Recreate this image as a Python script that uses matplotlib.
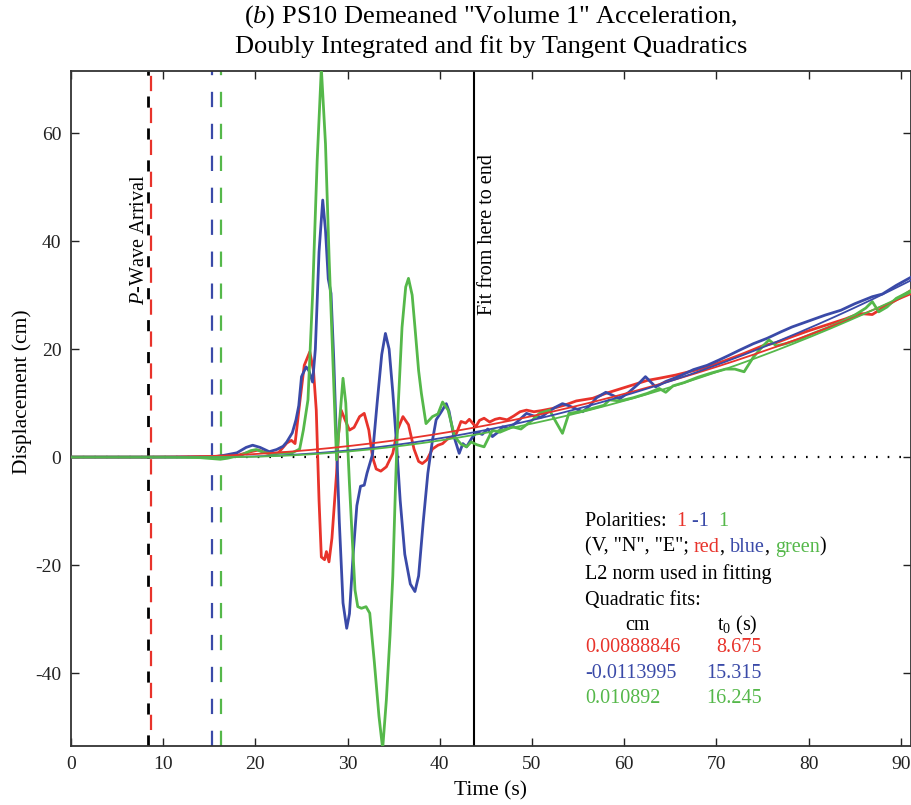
import numpy as np
import matplotlib
matplotlib.use("Agg")
import matplotlib.pyplot as plt

plt.rcParams['font.family'] = ['Liberation Serif', 'DejaVu Serif']
plt.rcParams['mathtext.fontset'] = 'custom'
plt.rcParams['mathtext.rm'] = 'Liberation Serif'
plt.rcParams['mathtext.it'] = 'Liberation Serif:italic'
plt.rcParams['axes.unicode_minus'] = False
plt.rcParams['lines.scale_dashes'] = False

# ---------------- data ----------------
red_t = [0, 8, 15, 18, 19.5, 20.3, 21.5, 22.5, 23.4, 23.9, 24.3, 24.8, 25.3, 25.9, 26.3, 26.6, 26.9,
         27.15, 27.5, 27.7, 27.98, 28.3, 28.8, 29.0, 29.3, 29.7, 30.2, 30.7, 31.3, 31.8, 32.3, 32.7,
         33.1, 33.6, 34.2, 34.9, 35.4, 36.0, 36.6, 37.2, 37.7, 38.1, 38.6, 39.2, 39.8, 40.3, 40.8,
         41.4, 41.8, 42.3, 42.8, 43.2, 43.6, 43.9, 44.3, 44.8, 45.4, 46.0, 46.5, 47.3, 48.0, 48.7,
         49.4, 50.2, 51.0, 52.2, 53.5, 54.8, 56.6, 58.0, 59.5, 61.0, 62.5, 63.8, 65.6, 67.5, 69.0,
         71.0, 73.0, 75.0, 76.5, 78.2, 80.0, 82.0, 84.0, 85.5, 86.9, 88.0, 89.0, 90.0, 91.2]
red_y = [0, 0, 0.1, 0.3, 1.0, 1.3, 0.6, 0.8, 2.6, 3.1, 2.5, 10, 17, 19.5, 16, 8.7, -8,
         -18.5, -19, -17.5, -19.4, -15, -3, 4, 8.7, 7, 5, 5.5, 7.5, 8.1, 5, 0,
         -2.2, -2.6, -1.8, 0.7, 5, 7.5, 6, 1.5, -0.8, -1.2, -0.5, 1.5, 2.2, 2.5, 3.3,
         3.8, 4.4, 6.6, 6.3, 7.0, 6.2, 5.6, 6.8, 7.2, 6.5, 7.0, 7.2, 6.9, 7.6, 8.4,
         8.7, 8.4, 8.6, 9.0, 9.6, 10.4, 10.9, 11.8, 12.6, 13.4, 14.2, 14.6, 15.2, 16.0, 16.7,
         17.9, 19.2, 20.6, 21.2, 22.3, 23.4, 24.5, 25.6, 26.6, 26.4, 27.6, 28.6, 29.6, 31.0]

blue_t = [0, 8, 14, 15.3, 16.5, 18, 19.0, 19.7, 20.5, 21.5, 22.3, 23.0, 23.4, 24.0, 24.4, 24.7, 25.0,
          25.5, 25.8, 26.2, 26.5, 26.9, 27.3, 27.6, 27.9, 28.2, 28.5, 28.8, 29.1, 29.5, 29.9, 30.2,
          30.6, 31.0, 31.4, 31.8, 32.1, 32.7, 33.2, 33.7, 34.1, 34.5, 34.9, 35.3, 35.7, 36.2, 36.8,
          37.3, 37.7, 38.2, 38.7, 39.2, 39.6, 40.2, 40.7, 41.0, 41.5, 42.1, 42.5, 42.9, 43.5, 44.0,
          44.6, 45.2, 45.7, 46.3, 46.8, 47.5, 48.3, 49.4, 50.2, 51.0, 51.6, 52.5, 53.3, 54.0, 55.5,
          56.3, 57.0, 58.0, 58.8, 59.5, 60.5, 61.5, 62.3, 63.4, 64.5, 66.0, 67.5, 69.0, 70.3, 71.3,
          72.5, 74.0, 75.5, 77.0, 78.2, 80.0, 81.8, 83.5, 85.0, 86.9, 88.0, 89.5, 91.2]
blue_y = [0, 0, 0, 0, 0.3, 0.8, 1.8, 2.2, 1.8, 1.0, 1.4, 2.0, 2.8, 4.5, 6.9, 9.5, 14.9,
          16.7, 16.0, 13.9, 20, 38, 47.6, 42, 33, 30.3, 18, 2.5, -12, -27, -31.7, -29,
          -18, -9, -5.4, -5.2, -3, 0.5, 10, 19, 22.9, 20, 12, 2.6, -8, -18, -23.5,
          -24.9, -22, -12, -3, 3.1, 6.9, 8.5, 9.9, 8.5, 4, 0.7, 2.5, 1.9, 3.6, 4.6,
          4.2, 5.2, 3.8, 4.6, 5.6, 5.4, 6.4, 8.1, 7.6, 7.4, 8.2, 9.2, 9.9, 9.5, 8.4,
          9.6, 11.0, 12.0, 11.4, 10.8, 12.0, 13.5, 14.9, 13.0, 14.0, 15.0, 16.2, 17.0, 18.0, 18.8,
          19.8, 21.0, 22.0, 23.2, 24.1, 25.2, 26.3, 27.2, 28.4, 29.7, 30.2, 31.8, 33.4]

green_t = [0, 10, 14, 16.2, 17, 18.5, 19.5, 20.1, 21, 22, 23, 24, 24.8, 25.2, 25.7, 26.2, 26.7,
           27.15, 27.6, 28.0, 28.4, 28.8, 29.1, 29.5, 29.8, 30.2, 30.5, 30.8, 31.1, 31.5, 32.0, 32.4,
           32.9, 33.4, 33.8, 34.2, 34.6, 34.9, 35.2, 35.5, 35.9, 36.3, 36.6, 37.0, 37.3, 37.7, 38.0,
           38.5, 39.2, 39.8, 40.3, 40.9, 41.6, 42.3, 42.9, 43.4, 44.0, 44.8, 45.7, 46.5, 47.9, 48.8,
           50.0, 50.8, 51.9, 52.6, 53.3, 54.0, 55.2, 56.5, 57.8, 58.4, 59.5, 61.0, 62.5, 63.8, 64.5,
           65.3, 66.5, 68.0, 69.5, 71.0, 72.0, 73.0, 74.0, 75.0, 75.7, 76.5, 77.5, 79.0, 80.5, 82.0,
           83.5, 85.0, 86.2, 86.9, 87.6, 88.5, 89.5, 91.2]
green_y = [0, 0, -0.1, -0.4, -0.2, 0.4, 1.2, 1.4, 0.8, 0.6, 0.8, 0.8, 1.5, 5, 10.6, 30, 55,
           72, 58, 36.5, 18, -0.5, 6, 14.6, 10, -5, -15, -24.6, -27.7, -28, -27.7, -28.9,
           -38, -48, -54, -45, -33, -22, -5, 10, 24, 31.5, 33.1, 30, 24.1, 16, 11.8,
           6.2, 7.5, 8.0, 10.2, 8.7, 3.8, 2.4, 1.9, 2.8, 2.3, 1.9, 5.0, 4.6, 5.6, 5.2,
           6.8, 8.1, 8.7, 6.5, 4.4, 8.1, 8.4, 9.0, 9.6, 10.6, 10.4, 11.0, 11.8, 12.7, 12.0,
           13.2, 13.8, 14.8, 15.6, 16.3, 16.3, 15.8, 18.5, 20.5, 21.7, 20.6, 21.0, 21.8, 22.9, 23.9,
           25.0, 26.3, 27.6, 28.8, 26.9, 27.8, 29.4, 30.9]

# quadratic fit parameters (from the annotation)
polarities = [1, -1, 1]
fit_coef = [0.00888846, -0.0113995, 0.010892]
fit_t0 = [8.675, 15.315, 16.245]
p_arrival = 8.4
fit_start = 43.75

xticks = [0, 10, 20, 30, 40, 50, 60, 70, 80, 90]
yticks = [-40, -20, 0, 20, 40, 60]

RED = '#e8332b'
BLUE = '#3a4aa8'
GREEN = '#55b84a'
colors = [RED, BLUE, GREEN]

W, H = 912, 805
fig = plt.figure(figsize=(W / 100, H / 100), dpi=100)
L, R, T, B = 71, 911, 71, 746
ax = fig.add_axes([L / W, 1 - B / H, (R - L) / W, (B - T) / H])

ax.set_xlim(0, 91.1)
ax.set_ylim(-53.5, 71.5)

# zero line
ax.axhline(0, color='black', lw=1.6, ls=(0, (1.2, 7.2)), zorder=1)

# traces
for tt, yy, c in [(red_t, red_y, RED), (blue_t, blue_y, BLUE), (green_t, green_y, GREEN)]:
    ax.plot(tt, yy, color=c, lw=2.0, zorder=3, solid_joinstyle='round')

# fits
tgrid = np.linspace(0, 91.1, 500)
for p, a, t0, c in zip(polarities, fit_coef, fit_t0, colors):
    y = np.where(tgrid > t0, p * 0.5 * a * (tgrid - t0) ** 2, 0.0)
    ax.plot(tgrid, y, color=c, lw=1.3, zorder=4)

# vertical lines
ax.axvline(p_arrival, color='black', lw=2.0, ls=(0, (8, 15)), zorder=2)
ax.axvline(fit_t0[0], color=RED, lw=1.6, ls=(11.5, (11, 12)), zorder=2)
ax.axvline(fit_t0[1], color=BLUE, lw=1.6, ls=(0, (11, 12)), zorder=2)
ax.axvline(fit_t0[2], color=GREEN, lw=1.6, ls=(0, (11, 12)), zorder=2)
ax.axvline(fit_start, color='black', lw=1.5, zorder=2)

# ticks / axes
ax.set_xticks(xticks)
ax.set_yticks(yticks)
ax.tick_params(direction='in', length=6, width=1, top=True, right=True,
               labelsize=14, pad=7, colors='#222222')
for s in ax.spines.values():
    s.set_linewidth(1.3)
    s.set_color('#333333')

ax.set_xlabel('Time (s)', fontsize=15.5, labelpad=6)
ax.set_ylabel('Displacement (cm)', fontsize=15.5, va='center')
ax.yaxis.set_label_coords((22 - L) / (R - L), (B - 392) / (B - T))

fig.text(491 / W, 1 - 17 / H, r'($\it{b}$) PS10 Demeaned "Volume 1" Acceleration,',
         ha='center', va='center', fontsize=19)
fig.text(491 / W, 1 - 47 / H, 'Doubly Integrated and fit by Tangent Quadratics',
         ha='center', va='center', fontsize=19)

def fx(px):
    return (px - L) / (R - L)

def fy(py):
    return (B - py) / (B - T)

ax.text(fx(139), fy(240), r'$\it{P}$-Wave Arrival', rotation=90, ha='center', va='center',
        fontsize=14.5, transform=ax.transAxes)
ax.text(fx(488), fy(235), 'Fit from here to end', rotation=90, ha='center', va='center',
        fontsize=14.5, transform=ax.transAxes)

FS = 14.5

def rainbow(x, y, parts):
    prev = ax.text(fx(x), fy(y), parts[0][0], color=parts[0][1], fontsize=FS,
                   transform=ax.transAxes, ha='left', va='center')
    for s, c in parts[1:]:
        prev = ax.annotate(s, xy=(1, 0), xycoords=prev, color=c, fontsize=FS,
                           ha='left', va='bottom')

rainbow(585, 521, [('Polarities:  ', 'black'), ('1', RED), (' -1', BLUE), ('  1', GREEN)])
rainbow(585, 547, [('(V, "N", "E"; ', 'black'), ('red', RED), (', ', 'black'),
                   ('blue', BLUE), (', ', 'black'), ('green', GREEN), (')', 'black')])
ax.text(fx(585), fy(574), 'L2 norm used in fitting', fontsize=FS, transform=ax.transAxes,
        ha='left', va='center')
ax.text(fx(585), fy(601), 'Quadratic fits:', fontsize=FS, transform=ax.transAxes,
        ha='left', va='center')
ax.text(fx(637), fy(625), 'cm', fontsize=FS, transform=ax.transAxes, ha='center', va='center')
ax.text(fx(717), fy(625), r'$\mathrm{t}_0$ (s)', fontsize=FS, transform=ax.transAxes,
        ha='left', va='center')
rows_y = [648, 673, 698]
for a, t0, c, yy in zip(fit_coef, fit_t0, colors, rows_y):
    ax.text(fx(585), fy(yy), f'{a:g}', color=c, fontsize=FS, transform=ax.transAxes,
            ha='left', va='center')
    ax.text(fx(762), fy(yy), f'{t0:g}', color=c, fontsize=FS, transform=ax.transAxes,
            ha='right', va='center')

fig.savefig('out.png', dpi=100)
